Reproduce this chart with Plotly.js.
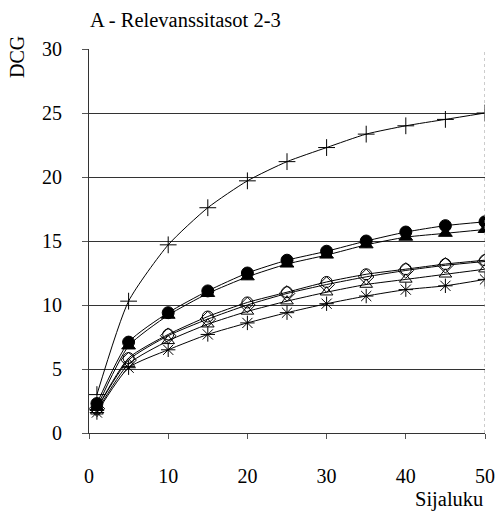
<!DOCTYPE html>
<html>
<head>
<meta charset="utf-8">
<script src="https://cdn.plot.ly/plotly-3.0.1.min.js"></script>
<style>html,body{margin:0;padding:0;background:#fff;}#chart{width:497px;height:512px;}</style>
</head>
<body>
<div id="chart"></div>
<script>
const ranks = [1, 5, 10, 15, 20, 25, 30, 35, 40, 45, 50];
const idealDCG    = [3.0, 10.3, 14.7, 17.6, 19.7, 21.2, 22.3, 23.35, 24.0, 24.5, 25.0];
const filledCirc  = [2.3, 7.1, 9.4, 11.1, 12.5, 13.5, 14.2, 15.0, 15.7, 16.2, 16.5];
const filledTri   = [2.0, 6.8, 9.2, 10.9, 12.2, 13.2, 13.9, 14.7, 15.3, 15.6, 15.9];
const openCirc    = [1.9, 5.85, 7.7, 9.1, 10.2, 11.0, 11.8, 12.4, 12.8, 13.2, 13.5];
const openDiam    = [1.9, 5.7, 7.6, 8.9, 10.0, 10.9, 11.6, 12.2, 12.7, 13.1, 13.4];
const openTri     = [1.7, 5.4, 7.2, 8.5, 9.5, 10.3, 11.0, 11.6, 12.0, 12.4, 12.8];
const starSeries  = [1.6, 5.1, 6.5, 7.7, 8.6, 9.4, 10.1, 10.7, 11.2, 11.5, 12.0];
const yTicks = [0, 5, 10, 15, 20, 25, 30];
const xTicks = [0, 10, 20, 30, 40, 50];

function tr(y, sym, size) {
  return {
    x: ranks, y: y, type: 'scatter', mode: 'lines+markers',
    line: {color: '#000', width: 1, shape: 'spline', smoothing: 0.6},
    marker: {symbol: sym, size: size, color: '#000',
             line: {color: '#000', width: 1}},
    showlegend: false, hoverinfo: 'skip'
  };
}
const data = [
  tr(starSeries, 'asterisk-open', 12),
  tr(openTri, 'triangle-up-open', 11),
  tr(openDiam, 'diamond-open', 12),
  tr(openCirc, 'circle-open', 11),
  tr(filledTri, 'triangle-up', 12),
  tr(filledCirc, 'circle', 12),
  tr(idealDCG, 'cross-thin-open', 12)
];
const fam = 'Liberation Serif, Times New Roman, serif';
const tickFont = {family: fam, color: '#000', size: 20};
const layout = {
  width: 497, height: 512,
  margin: {l: 89, r: 12, t: 49, b: 79},
  paper_bgcolor: '#fff', plot_bgcolor: '#fff',
  font: tickFont,
  xaxis: {
    range: [0, 50], tickvals: xTicks, ticktext: xTicks.map(String),
    showgrid: false, zeroline: false, showline: true, linecolor: '#333', linewidth: 1,
    ticks: 'outside', ticklen: 5, tickcolor: '#555', ticklabelstandoff: 20,
    tickfont: tickFont
  },
  yaxis: {
    range: [0, 30], tickvals: yTicks, ticktext: yTicks.map(String),
    showgrid: true, gridcolor: '#333', gridwidth: 1, zeroline: false,
    showline: true, linecolor: '#333', linewidth: 1,
    ticks: 'outside', ticklen: 6, tickcolor: '#555', ticklabelstandoff: 16,
    tickfont: tickFont
  },
  shapes: [
    {type: 'line', xref: 'x', yref: 'y', x0: 50, x1: 50, y0: 0, y1: 30,
     line: {color: '#999', width: 1, dash: 'dot'}}
  ],
  annotations: [
    {text: 'A - Relevanssitasot 2-3', xref: 'paper', yref: 'paper', x: -0.003, y: 1.0,
     xanchor: 'left', yanchor: 'middle', yshift: 29, showarrow: false,
     font: {family: fam, size: 20.5, color: '#000'}},
    {text: 'DCG', xref: 'paper', yref: 'paper', x: 0, y: 1.0, xshift: -72,
     yshift: -8, xanchor: 'center', yanchor: 'middle', textangle: -90, showarrow: false,
     font: {family: fam, size: 20, color: '#000'}},
    {text: 'Sijaluku', xref: 'paper', yref: 'paper', x: 1.0, y: 0, yshift: -66,
     xanchor: 'right', yanchor: 'middle', showarrow: false,
     font: {family: fam, size: 20.5, color: '#000'}}
  ]
};
Plotly.newPlot('chart', data, layout, {staticPlot: true, displayModeBar: false});
</script>
</body>
</html>
